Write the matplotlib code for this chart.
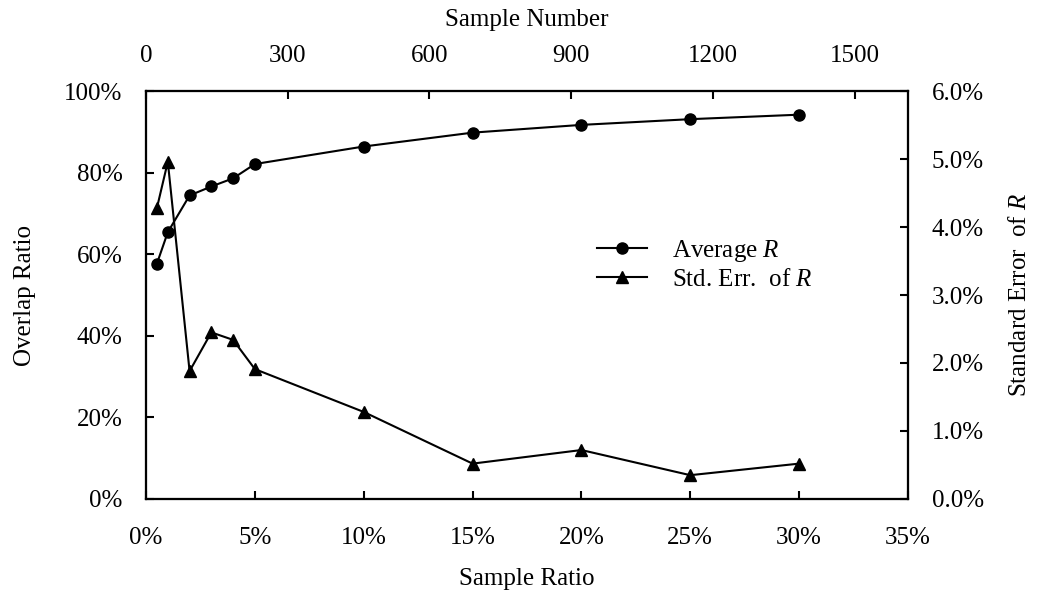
import matplotlib
matplotlib.use("Agg")
import matplotlib.pyplot as plt
from matplotlib.ticker import PercentFormatter, MultipleLocator

# ── datos ─────────────────────────────────────────────────────
sample_ratio = [0.5, 1, 2, 3, 4, 5, 10, 15, 20, 25, 30]          # %
average_r    = [57.7, 65.4, 74.4, 76.6, 78.6, 82.1, 86.4, 89.8, 91.7, 93.1, 94.2]  # %
std_err_r    = [4.28, 4.96, 1.88, 2.45, 2.34, 1.91, 1.28, 0.52, 0.72, 0.35, 0.52]  # %
top_ticks    = [0, 300, 600, 900, 1200, 1500]
top_max      = 1613

plt.rcParams['font.family'] = ['Liberation Serif', 'DejaVu Serif']
plt.rcParams['mathtext.fontset'] = 'custom'
plt.rcParams['mathtext.rm'] = 'Liberation Serif'
plt.rcParams['mathtext.it'] = 'Liberation Serif:italic'
FS = 18
plt.rcParams['font.size'] = FS

fig = plt.figure(figsize=(10.56, 6.06), dpi=100)
ax = fig.add_axes([0.1383, 0.1766, 0.7215, 0.6732])
ax2 = ax.twinx()
ax3 = ax.twiny()

l1, = ax.plot(sample_ratio, average_r, color='black', lw=1.5,
              marker='o', markersize=8, label='Average $R$')
l2, = ax2.plot(sample_ratio, std_err_r, color='black', lw=1.5,
               marker='^', markersize=8, label='Std. Err.  of $R$')

ax.set_xlim(0, 35)
ax.set_ylim(0, 100)
ax2.set_ylim(0, 6)
ax3.set_xlim(0, top_max)

ax.xaxis.set_major_locator(MultipleLocator(5))
ax.yaxis.set_major_locator(MultipleLocator(20))
ax2.yaxis.set_major_locator(MultipleLocator(1))
ax3.set_xticks(top_ticks)
ax3.set_xticklabels([str(t) for t in top_ticks])

ax.xaxis.set_major_formatter(PercentFormatter(xmax=100, decimals=0))
ax.yaxis.set_major_formatter(PercentFormatter(xmax=100, decimals=0))
ax2.yaxis.set_major_formatter(PercentFormatter(xmax=100, decimals=1))

for a in (ax, ax2, ax3):
    a.tick_params(direction='in', length=6, width=1.5, labelsize=FS, pad=17)
    for s in a.spines.values():
        s.set_linewidth(1.5)
ax.tick_params(axis='x', pad=20)

ax.set_xlabel("Sample Ratio", fontsize=FS, labelpad=14)
ax.set_ylabel("Overlap Ratio", fontsize=FS, labelpad=20)
ax2.set_ylabel("Standard Error  of $R$", fontsize=FS, labelpad=18)
ax3.set_xlabel("Sample Number", fontsize=FS, labelpad=14)

ax.legend(handles=[l1, l2], loc='center left', bbox_to_anchor=(0.592, 0.575),
          frameon=False, fontsize=FS, handlelength=2.0, handletextpad=1.0,
          labelspacing=0.2, borderpad=0, borderaxespad=0)

fig.savefig("out.png", dpi=100)
